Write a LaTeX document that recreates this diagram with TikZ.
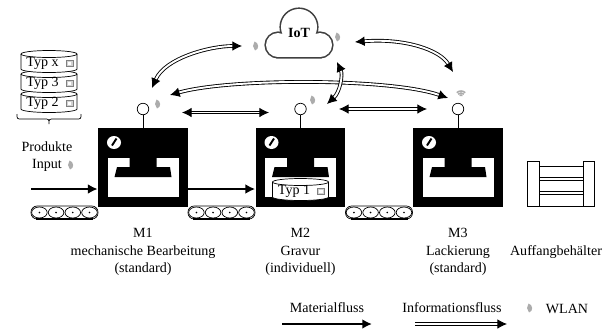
\documentclass[tikz,border=0pt]{standalone}
\usepackage{fontspec}
\setmainfont{Liberation Serif}
\usetikzlibrary{arrows.meta}
\usetikzlibrary{positioning}
\tikzset{>={Latex[length = 5.5pt, width = 5.5pt]}}
\tikzset{every node/.style = {font = \fontsize{8}{10}\selectfont}}
\tikzset{machine/.style = {fill, inner sep = 0, minimum width = 1.8cm, minimum height = 1.58cm}}
\tikzset{antenna/.style = {draw, fill = white, circle, inner sep = 0, minimum size = 0.23cm}}
\tikzset{matflow/.style = {line width = 1.1pt, ->}}
\tikzset{infoflow/.style = {double, double distance = 1.1pt, line width = 0.5pt}}
\tikzset{cloudline/.style = {line width = 1.8pt, black!75}}
\tikzset{gauge/.pic = {
    \fill [white] (0, 0) circle [x radius = 7, y radius = 6.5];
    \draw [line width = 1.1pt] (-2, 3) -- (2.5, -4);
  }}
\tikzset{wlan/.pic = {
    \fill [gray!65] (-1.5, -4.5) .. controls (3, -3.5) and (3.5, 3.5) .. (-1, 4.5) -- (-3, 0) -- cycle;
  }}
\tikzset{wifi/.pic = {
    \foreach \r in {2, 4, 6}
      \draw [gray!65, line width = 0.9pt] (0, 0) ++(225:\r) arc [start angle = 225, end angle = 315, radius = \r];
  }}
\tikzset{rollers/.pic = {
    \draw [rounded corners = 3.5pt] (0, -6.5) rectangle (67, 6.5);
    \draw [line width = 1.2pt] (5, 6.5) -- (62, 6.5);
    \foreach \k in {0, ..., 3} {
      \draw [fill = white] (8.4 + 16.7 * \k, 0) ellipse [x radius = 7.8, y radius = 5.5];
      \fill (8.4 + 16.7 * \k, 0) circle (0.9);
    }
  }}
\tikzset{pics/barrel/.style = {code = {
    \draw [fill = white] (-28, -7.5) -- (-28, 7.5) arc [start angle = 180, end angle = 0, x radius = 28, y radius = 3.5]
      -- (28, -7.5) arc [start angle = 0, end angle = -180, x radius = 28, y radius = 3.5] -- cycle;
    \draw (-28, -7.5) arc [start angle = 180, end angle = 0, x radius = 28, y radius = 3.5];
    \node at (-6.5, 1.5) {#1};
    \draw [gray, fill = gray!35] (17, -1.5) rectangle (24, 5);
    \fill [white] (18.5, 0) rectangle (22, 3);
  }}}

\begin{document}
\begin{tikzpicture}[x = 0.02cm, y = -0.02cm]
  \useasboundingbox (0, 0) rectangle (615, 329);

  % machines with antenna, gauge and tool
  \foreach \m/\x in {m1/143, m2/300.5, m3/458} {
    \node [machine] (\m) at (\x, 167.5) {};
    \node [antenna] (\m-ant) at (\x, 109) {};
    \draw (\m-ant) -- (\m);
    \fill [white] (\x - 35.5, 158) rectangle (\x + 35.5, 197);
    \fill (\x - 13.5, 158) -- (\x + 13.5, 158) -- (\x + 13.5, 167) -- (\x + 27, 167) -- (\x + 28.5, 177)
      -- (\x - 28.5, 177) -- (\x - 26, 167) -- (\x - 13.5, 167) -- cycle;
    \pic at (\x - 29, 142.5) {gauge};
  }
  \pic at (300.5, 189.5) {barrel = Typ 1};

  \pic at (31, 212.5) {rollers};
  \pic at (188, 212.5) {rollers};
  \pic at (345.5, 212.5) {rollers};

  \coordinate (in) at (31, 189);
  \draw [matflow] (in) -- (in -| m1.west);
  \draw [matflow] (m1.east |- in) -- (m2.west |- in);

  % products
  \foreach \t/\y in {Typ 2/101.5, Typ 3/81.5, Typ x/61.5}
    \pic at (49, \y) {barrel = \t};
  \draw (17, 114) .. controls (17, 119) .. (22, 119) -- (44, 119) .. controls (49, 119) .. (49, 124)
    .. controls (49, 119) .. (54, 119) -- (76, 119) .. controls (81, 119) .. (81, 114);
  \node (prod) at (47, 147) {Produkte};
  \node (input) at (47, 165) {Input};
  \pic at (71, 165) {wlan};

  \node [align = center] (m1-txt) at (143, 252) {M1\\mechanische Bearbeitung\\(standard)};
  \node [align = center] (m2-txt) at (300.5, 252) {M2\\Gravur\\(individuell)};
  \node [align = center] (m3-txt) at (458, 252) {M3\\Lackierung\\(standard)};

  % collecting crate
  \draw [fill = white] (539, 166) rectangle (583, 177);
  \draw [fill = white] (539, 180) rectangle (583, 191);
  \draw [fill = white] (539, 194) rectangle (583, 206);
  \draw [fill = white] (527, 161) rectangle (539, 206);
  \draw [fill = white] (583, 161) rectangle (594, 206);
  \node (crate-txt) at (556, 252) {Auffangbehälter};

  % cloud
  \draw [cloudline] (278, 45) circle (12) (299, 27) circle (18) (320, 45) circle (12) (278, 35) rectangle (320, 57);
  \fill [white] (278, 45) circle (12);
  \fill [white] (299, 27) circle (18);
  \fill [white] (320, 45) circle (12);
  \fill [white] (278, 35) rectangle (320, 57);
  \node [font = \fontsize{8}{10}\selectfont\bfseries] (iot) at (299, 33) {IoT};

  \pic at (256, 46) {wlan};
  \pic at (338, 37) {wlan};
  \pic at (158, 104) {wlan};
  \pic at (313, 100) {wlan};
  \pic at (461, 97) {wifi};

  \coordinate (iot-w) at (242, 46);
  \coordinate (iot-e) at (355, 42);
  \coordinate (iot-s) at (337, 62);
  \coordinate (m1-w) at (152, 88);
  \coordinate (m1-n) at (170, 95);
  \coordinate (m2-n) at (327, 104);
  \coordinate (m3-w) at (448, 98);
  \coordinate (m3-n) at (453, 72);
  \coordinate (m1-e) at (182, 112.5);
  \coordinate (m2-w) at (269, 112.5);
  \coordinate (m2-e) at (339, 109);
  \coordinate (m3-ww) at (427, 109);

  \draw [infoflow, <->] (iot-w) .. controls (210, 46) and (165, 58) .. (m1-w);
  \draw [infoflow, <->] (m1-n) .. controls (230, 78) and (390, 78) .. (m3-w);
  \draw [infoflow, <->] (iot-e) .. controls (405, 38) and (440, 50) .. (m3-n);
  \draw [infoflow, <->] (iot-s) .. controls (343, 75) and (340, 92) .. (m2-n);
  \draw [infoflow, <->] (m1-e) -- (m2-w);
  \draw [infoflow, <->] (m2-e) -- (m3-ww);

  % legend
  \node (mat) at (327, 308) {Materialfluss};
  \draw [matflow] (282, 324) -- (372, 324);
  \node (info) at (452, 308) {Informationsfluss};
  \draw [infoflow, ->] (415, 324) -- (507, 324);
  \pic at (530, 308) {wlan};
  \node (wlan) at (567, 309) {WLAN};
\end{tikzpicture}
\end{document}
